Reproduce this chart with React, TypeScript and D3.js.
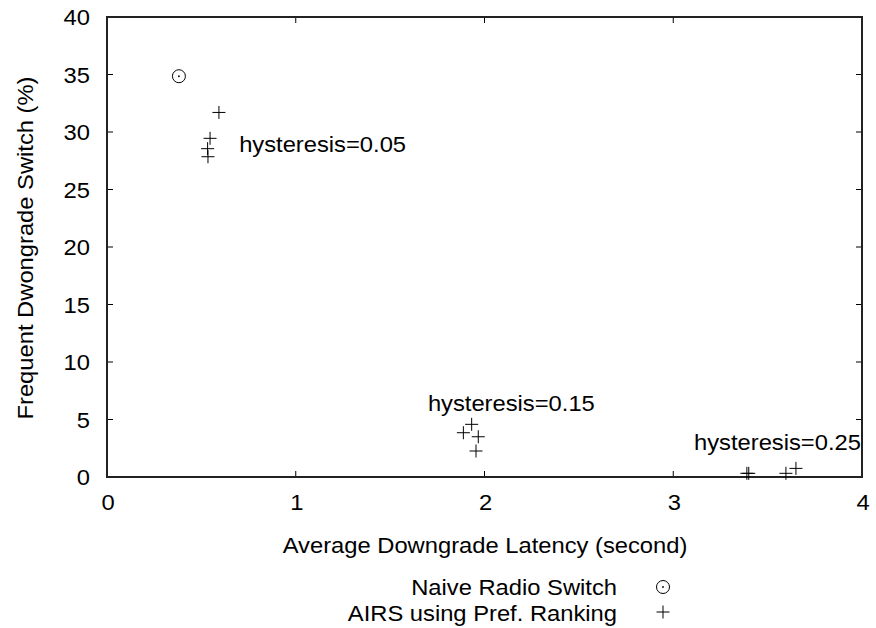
import React from "react";
import * as d3 from "d3";

const xTicks = [0, 1, 2, 3, 4];
const yTicks = [0, 5, 10, 15, 20, 25, 30, 35, 40];

const naiveX = [0.381];
const naiveY = [34.85];

const airsX = [0.593, 0.546, 0.533, 0.535, 1.932, 1.888, 1.967, 1.955, 3.39, 3.40, 3.597, 3.65];
const airsY = [31.7, 29.45, 28.55, 27.85, 4.58, 3.85, 3.5, 2.26, 0.32, 0.32, 0.32, 0.75];

const annLabels = ["hysteresis=0.05", "hysteresis=0.15", "hysteresis=0.25"];
const annX = [0.700, 1.70, 3.11];
const annY = [28.3, 5.72, 2.35];

const legendLabels = ["Naive Radio Switch", "AIRS using Pref. Ranking"];

const W = 876, H = 628;
const L = 107, R = 862, T = 17, B = 477;
const font = "Liberation Sans, Arial, Helvetica, sans-serif";
const FS = 22;
const SX = 1.08;

function Txt({ x, y, anchor, children, rot }: { x: number; y: number; anchor?: string; children: React.ReactNode; rot?: boolean }) {
  return (
    <g transform={`translate(${x},${y})${rot ? " rotate(-90)" : ""} scale(${SX},1)`}>
      <text x={0} y={0} fontSize={FS} textAnchor={anchor || "start"} fill="#000">{children}</text>
    </g>
  );
}

export default function App() {
  const x = d3.scaleLinear().domain([0, 4]).range([L, R]);
  const y = d3.scaleLinear().domain([0, 40]).range([B, T]);
  const tl = 6;
  const cross = (cx: number, cy: number, s: number, key: string) => (
    <g key={key} stroke="#000" strokeWidth={1}>
      <line x1={cx - s} x2={cx + s} y1={cy} y2={cy} />
      <line x1={cx} x2={cx} y1={cy - s} y2={cy + s} />
    </g>
  );
  const circ = (cx: number, cy: number, key: string) => (
    <g key={key}>
      <circle cx={cx} cy={cy} r={6.5} fill="none" stroke="#000" strokeWidth={1} />
      <circle cx={cx} cy={cy} r={0.9} fill="#000" />
    </g>
  );
  return (
    <svg width={W} height={H} style={{ position: "absolute", left: 0, top: 0, background: "#fff" }} fontFamily={font}>
      <rect x={0} y={0} width={W} height={H} fill="#fff" />
      {xTicks.map((t) => (
        <g key={"xt" + t}>
          <line x1={x(t)} x2={x(t)} y1={B} y2={B - tl} stroke="#000" />
          <line x1={x(t)} x2={x(t)} y1={T} y2={T + tl} stroke="#000" />
          <Txt x={x(t) + 1} y={B + 33} anchor="middle">{t}</Txt>
        </g>
      ))}
      {yTicks.map((t) => (
        <g key={"yt" + t}>
          <line x1={L} x2={L + tl} y1={y(t)} y2={y(t)} stroke="#000" />
          <line x1={R} x2={R - tl} y1={y(t)} y2={y(t)} stroke="#000" />
          <Txt x={L - 17} y={y(t) + 8} anchor="end">{t}</Txt>
        </g>
      ))}
      <rect x={L} y={T} width={R - L} height={B - T} fill="none" stroke="#222" strokeWidth={2} />
      {naiveX.map((v, i) => circ(x(v), y(naiveY[i]), "n" + i))}
      {airsX.map((v, i) => cross(x(v), y(airsY[i]), 6.5, "a" + i))}
      {annLabels.map((s, i) => (
        <Txt key={s} x={x(annX[i])} y={y(annY[i])}>{s}</Txt>
      ))}
      <Txt x={485} y={553} anchor="middle">Average Downgrade Latency (second)</Txt>
      <Txt x={33} y={248} anchor="middle" rot>Frequent Dwongrade Switch (%)</Txt>
      <Txt x={617} y={595} anchor="end">{legendLabels[0]}</Txt>
      {circ(663, 587, "lg0")}
      <Txt x={617} y={621} anchor="end">{legendLabels[1]}</Txt>
      {cross(663, 612, 6.5, "lg1")}
    </svg>
  );
}
